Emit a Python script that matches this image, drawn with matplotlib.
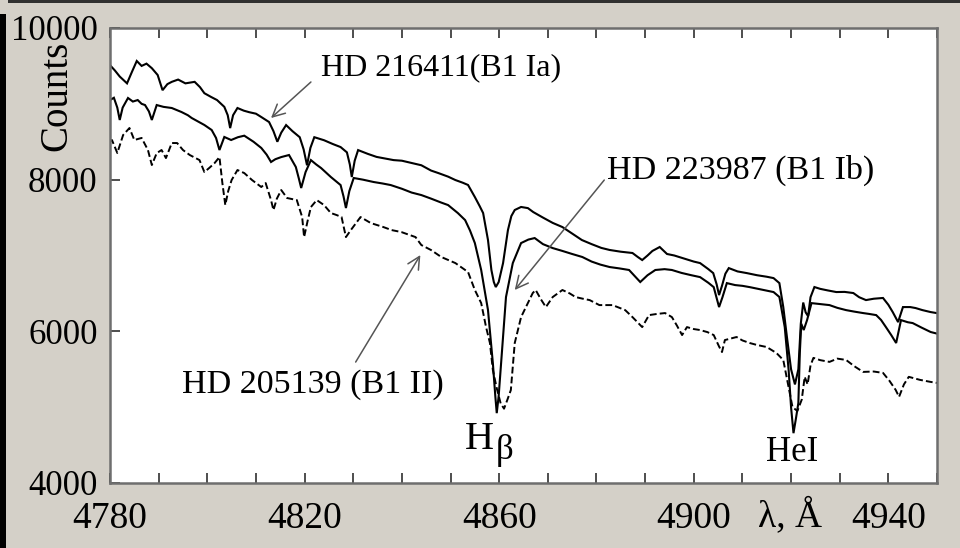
import matplotlib
matplotlib.use("Agg")
import matplotlib.pyplot as plt
from matplotlib.patches import Rectangle
from matplotlib.ticker import MultipleLocator, FixedLocator

plt.rcParams['font.family'] = ['Liberation Serif', 'DejaVu Serif']

# ---- HD 216411 (B1 Ia) : upper spectrum ----
wl_ia = [4780.0, 4781.0, 4782.0, 4783.5, 4784.5, 4785.5, 4786.5, 4787.5, 4788.6, 4789.8,
         4790.8, 4791.8, 4792.7, 4794.0, 4795.5, 4797.4, 4798.5, 4799.4, 4800.8, 4802.0,
         4803.5, 4804.2, 4804.7, 4805.3, 4806.2, 4807.5, 4808.6, 4810.0, 4811.0, 4812.7,
         4813.6, 4814.4, 4815.2, 4816.2, 4817.5, 4819.0, 4819.8, 4820.5, 4821.2, 4822.0,
         4824.0, 4825.8, 4827.4, 4828.7, 4829.3, 4829.7, 4830.3, 4831.0, 4833.0, 4834.8,
         4836.5, 4838.3, 4840.0, 4842.0, 4844.0, 4846.0, 4847.5, 4849.5, 4851.0, 4852.5,
         4853.6, 4855.0, 4856.0, 4856.7, 4857.7, 4858.4, 4858.9, 4859.3, 4859.9, 4860.8,
         4861.8, 4862.5, 4863.2, 4864.5, 4865.9, 4867.0, 4869.0, 4871.0, 4873.0, 4875.0,
         4877.0, 4879.0, 4881.0, 4882.7, 4885.0, 4887.4, 4888.5, 4889.4, 4890.5, 4891.5,
         4893.0, 4894.5, 4896.0, 4898.0, 4900.0, 4901.3, 4903.0, 4904.0, 4904.7, 4905.2,
         4905.8, 4906.5, 4907.2, 4909.0, 4910.9, 4913.0, 4915.0, 4916.4, 4917.6, 4918.4,
         4919.2, 4920.0, 4920.8, 4921.5, 4922.0, 4922.5, 4923.0, 4923.5, 4924.0, 4924.8,
         4926.0, 4927.5, 4929.3, 4931.0, 4932.8, 4934.0, 4935.4, 4937.0, 4938.9, 4940.0,
         4940.9, 4942.0, 4943.0, 4944.5, 4945.6, 4947.0, 4948.7, 4950.0]
cnt_ia = [9510, 9440, 9360, 9270, 9420, 9565, 9500, 9530, 9470, 9380,
          9180, 9260, 9290, 9320, 9270, 9290, 9220, 9140, 9090, 9050,
          8960, 8850, 8680, 8850, 8945, 8910, 8890, 8870, 8830, 8760,
          8640, 8500, 8620, 8720, 8640, 8560, 8400, 8190, 8420, 8560,
          8520, 8470, 8430, 8360, 8200, 8035, 8250, 8390, 8340, 8300,
          8280, 8258, 8250, 8220, 8190, 8120, 8087, 8040, 7995, 7960,
          7930, 7771, 7650, 7560, 7204, 6809, 6650, 6584, 6650, 6900,
          7335, 7520, 7600, 7640, 7625, 7573, 7500, 7430, 7375, 7290,
          7204, 7150, 7100, 7073, 7050, 7033, 6980, 6940, 7000, 7060,
          7112, 7020, 7000, 6960, 6920, 6900, 6820, 6768, 6620, 6478,
          6600, 6760, 6834, 6790, 6768, 6740, 6720, 6702, 6636, 6320,
          5900, 5500, 5300, 5500, 6100, 6380, 6250, 6200, 6450, 6584,
          6560, 6540, 6518, 6520, 6505, 6450, 6412, 6430, 6440, 6350,
          6254, 6122, 6320, 6320, 6307, 6280, 6254, 6240]

# ---- HD 223987 (B1 Ib) : middle spectrum ----
wl_ib = [4780.0, 4780.8, 4781.5, 4782.0, 4782.6, 4783.7, 4784.7, 4785.7, 4786.5, 4787.2,
         4788.0, 4788.6, 4789.6, 4791.0, 4792.7, 4794.7, 4796.0, 4796.8, 4798.0, 4799.4,
         4800.9, 4801.8, 4802.5, 4803.5, 4804.9, 4806.3, 4807.6, 4809.5, 4811.1, 4812.2,
         4813.1, 4814.0, 4815.2, 4816.8, 4818.2, 4818.8, 4819.3, 4820.2, 4821.3, 4822.4,
         4823.4, 4825.4, 4827.4, 4828.0, 4828.5, 4829.2, 4830.1, 4832.0, 4834.2, 4836.0,
         4837.7, 4840.0, 4842.0, 4844.0, 4846.0, 4848.0, 4849.5, 4851.5, 4853.0, 4854.0,
         4855.0, 4856.3, 4857.7, 4858.7, 4859.2, 4859.5, 4859.9, 4860.4, 4861.4, 4862.8,
         4864.5, 4866.0, 4867.3, 4869.0, 4871.0, 4873.0, 4875.0, 4877.1, 4879.0, 4880.8,
         4882.7, 4884.7, 4886.7, 4888.0, 4889.0, 4890.5, 4892.1, 4894.0, 4895.5, 4897.5,
         4899.5, 4901.3, 4903.0, 4904.1, 4905.2, 4905.9, 4906.8, 4908.5, 4910.0, 4911.5,
         4914.0, 4916.4, 4917.6, 4918.7, 4919.5, 4920.0, 4920.5, 4921.0, 4921.5, 4921.8,
         4922.1, 4922.6, 4923.3, 4924.2, 4926.0, 4927.9, 4929.5, 4931.3, 4933.0, 4934.8,
         4936.0, 4937.5, 4938.5, 4939.5, 4940.6, 4941.6, 4942.6, 4944.0, 4945.0, 4946.8,
         4948.7, 4950.0]
cnt_ib = [9050, 9080, 8950, 8787, 8950, 9077, 9030, 9050, 9000, 8984,
          8900, 8787, 8984, 8960, 8945, 8892, 8850, 8813, 8770, 8721,
          8655, 8550, 8391, 8563, 8523, 8560, 8580, 8500, 8418, 8330,
          8233, 8270, 8298, 8325, 8167, 8020, 7890, 8100, 8258, 8200,
          8153, 8035, 7929, 7780, 7626, 7850, 8022, 8000, 7969, 7950,
          7929, 7880, 7830, 7797, 7750, 7700, 7665, 7560, 7467, 7330,
          7164, 6809, 6281, 5582, 5150, 4921, 5150, 5582, 6452, 6900,
          7164, 7210, 7230, 7150, 7098, 7060, 7020, 6980, 6920, 6880,
          6848, 6830, 6809, 6720, 6650, 6740, 6809, 6820, 6809, 6770,
          6740, 6715, 6640, 6583, 6320, 6450, 6636, 6610, 6600, 6583,
          6550, 6518, 6453, 6056, 5490, 5000, 4657, 4850, 5055, 5714,
          6100, 6017, 6150, 6372, 6360, 6346, 6310, 6280, 6260, 6241,
          6230, 6214, 6150, 6056, 5950, 5846, 6148, 6120, 6109, 6050,
          5991, 5970]

# ---- HD 205139 (B1 II) : lower spectrum ----
wl_ii = [4780.0, 4780.4, 4781.5, 4782.7, 4784.0, 4785.0, 4786.5, 4787.8, 4788.6, 4789.6,
         4790.6, 4791.5, 4792.7, 4793.8, 4795.0, 4796.4, 4798.4, 4799.4, 4800.5, 4801.5,
         4802.5, 4803.1, 4803.7, 4804.3, 4805.0, 4806.2, 4807.6, 4809.2, 4811.1, 4812.0,
         4813.1, 4813.6, 4814.3, 4815.2, 4816.4, 4818.4, 4819.5, 4819.9, 4820.6, 4821.3,
         4822.5, 4824.0, 4825.4, 4826.6, 4827.6, 4828.5, 4829.5, 4831.5, 4833.6, 4836.2,
         4837.9, 4839.9, 4842.8, 4844.0, 4846.0, 4848.1, 4851.0, 4853.6, 4855.0, 4856.3,
         4857.3, 4858.1, 4858.7, 4859.5, 4860.3, 4861.0, 4861.7, 4862.4, 4863.2, 4864.5,
         4865.9, 4866.9, 4867.5, 4868.6, 4869.6, 4871.0, 4873.0, 4874.5, 4875.7, 4877.2,
         4878.6, 4880.6, 4883.3, 4885.9, 4887.4, 4889.4, 4890.8, 4892.5, 4894.1, 4895.5,
         4896.5, 4897.6, 4898.6, 4900.0, 4901.3, 4902.8, 4904.1, 4905.2, 4905.8, 4906.4,
         4908.8, 4910.0, 4911.5, 4913.0, 4915.0, 4917.0, 4918.4, 4919.5, 4920.3, 4921.3,
         4922.2, 4922.8, 4923.4, 4924.0, 4924.6, 4926.0, 4927.9, 4929.5, 4931.3, 4933.0,
         4934.8, 4937.0, 4938.9, 4940.2, 4941.5, 4942.2, 4943.2, 4944.2, 4946.5, 4948.7,
         4950.0]
cnt_ii = [8500, 8523, 8352, 8589, 8681, 8523, 8550, 8391, 8193, 8350,
          8391, 8285, 8483, 8483, 8391, 8325, 8258, 8100, 8160, 8219,
          8298, 7955, 7665, 7850, 7995, 8127, 8087, 7995, 7903, 7955,
          7731, 7599, 7750, 7863, 7758, 7731, 7507, 7243, 7450, 7639,
          7731, 7665, 7560, 7533, 7507, 7243, 7335, 7507, 7428, 7375,
          7335, 7309, 7243, 7138, 7072, 6980, 6900, 6782, 6545, 6373,
          6057, 5846, 5490, 5250, 5050, 4980, 5100, 5226, 5846, 6188,
          6373, 6505, 6545, 6420, 6320, 6452, 6545, 6500, 6452, 6430,
          6412, 6346, 6346, 6280, 6188, 6056, 6214, 6230, 6241, 6188,
          6080, 5951, 6056, 6030, 6017, 5990, 5951, 5800, 5727, 5885,
          5925, 5880, 5846, 5820, 5793, 5714, 5622, 5266, 5000, 4950,
          5100, 5400, 5300, 5550, 5650, 5620, 5597, 5640, 5623, 5540,
          5465, 5470, 5452, 5350, 5228, 5136, 5300, 5400, 5360, 5333,
          5320]

x_ticklabels = [4780, 4820, 4860, 4900, 4940]
y_ticklabels = [4000, 6000, 8000, 10000]

labels = ["HD 216411(B1 Ia)", "HD 223987 (B1 Ib)", "HD 205139 (B1 II)"]

BG = '#d4d0c8'
fig = plt.figure(figsize=(9.6, 5.48), dpi=100, facecolor=BG)
# decorative frame elements of the original screenshot
fig.patches.append(Rectangle((0.008, 1 - 2.5 / 548), 1, 2.5 / 548, transform=fig.transFigure,
                             facecolor='#303030', edgecolor='none'))
fig.patches.append(Rectangle((0, 0), 6 / 960, 1 - 14 / 548, transform=fig.transFigure,
                             facecolor='#000000', edgecolor='none'))

ax = fig.add_axes([110 / 960, 1 - 483 / 548, 827 / 960, 455 / 548])
ax.set_facecolor('white')

ax.plot(wl_ia, cnt_ia, color='black', lw=1.5, solid_joinstyle='miter')
ax.plot(wl_ib, cnt_ib, color='black', lw=1.5, solid_joinstyle='miter')
ax.plot(wl_ii, cnt_ii, color='black', lw=1.4, linestyle=(0, (3.5, 1.6)))

ax.set_xlim(4780, 4950)
ax.set_ylim(4000, 10000)

for s in ax.spines.values():
    s.set_color('#6e6e6e')
    s.set_linewidth(1.8)

ax.xaxis.set_major_locator(FixedLocator(x_ticklabels))
ax.xaxis.set_minor_locator(MultipleLocator(10))
ax.set_xticklabels([str(v) for v in x_ticklabels])
ax.yaxis.set_major_locator(FixedLocator(y_ticklabels))
ax.set_yticklabels([str(v) for v in y_ticklabels])

ax.tick_params(axis='x', which='both', direction='in', length=7, width=1.2, color='#303030',
               top=True, bottom=True, labelsize=27, pad=13)
ax.tick_params(axis='y', which='both', direction='in', length=7, width=1.2, color='#303030',
               left=True, right=False, labelsize=25, pad=9)

# axis titles
fig.text(57 / 960, 1 - 96 / 548, "Counts", rotation=90, fontsize=28,
         ha='center', va='center')
fig.text(790 / 960, 1 - 516 / 548, "λ, Å", fontsize=27, ha='center', va='center')

# star labels with arrows
arrow_kw = dict(arrowstyle='->', color='#555555', lw=1.1, mutation_scale=22,
                shrinkA=0, shrinkB=0)
ax.annotate("", xy=(4813.1, 8813), xytext=(4821.3, 9288), arrowprops=arrow_kw)
ax.text(4823.4, 9472, labels[0], fontsize=23, ha='left', va='center')

ax.annotate("", xy=(4863.2, 6545), xytext=(4881.6, 7995), arrowprops=arrow_kw)
ax.text(4882.2, 8127, labels[1], fontsize=24.5, ha='left', va='center')

ax.annotate("", xy=(4843.8, 7006), xytext=(4830.5, 5595), arrowprops=arrow_kw)
ax.text(4794.9, 5292, labels[2], fontsize=24.5, ha='left', va='center')

# line identifications
ax.text(4859.0, 4570, "H", fontsize=29, ha='right', va='center')
ax.text(4859.2, 4430, "β", fontsize=25, ha='left', va='center')
ax.text(4920.2, 4400, "HeI", fontsize=25, ha='center', va='center')

fig.savefig('out.png', dpi=100, facecolor=BG)
